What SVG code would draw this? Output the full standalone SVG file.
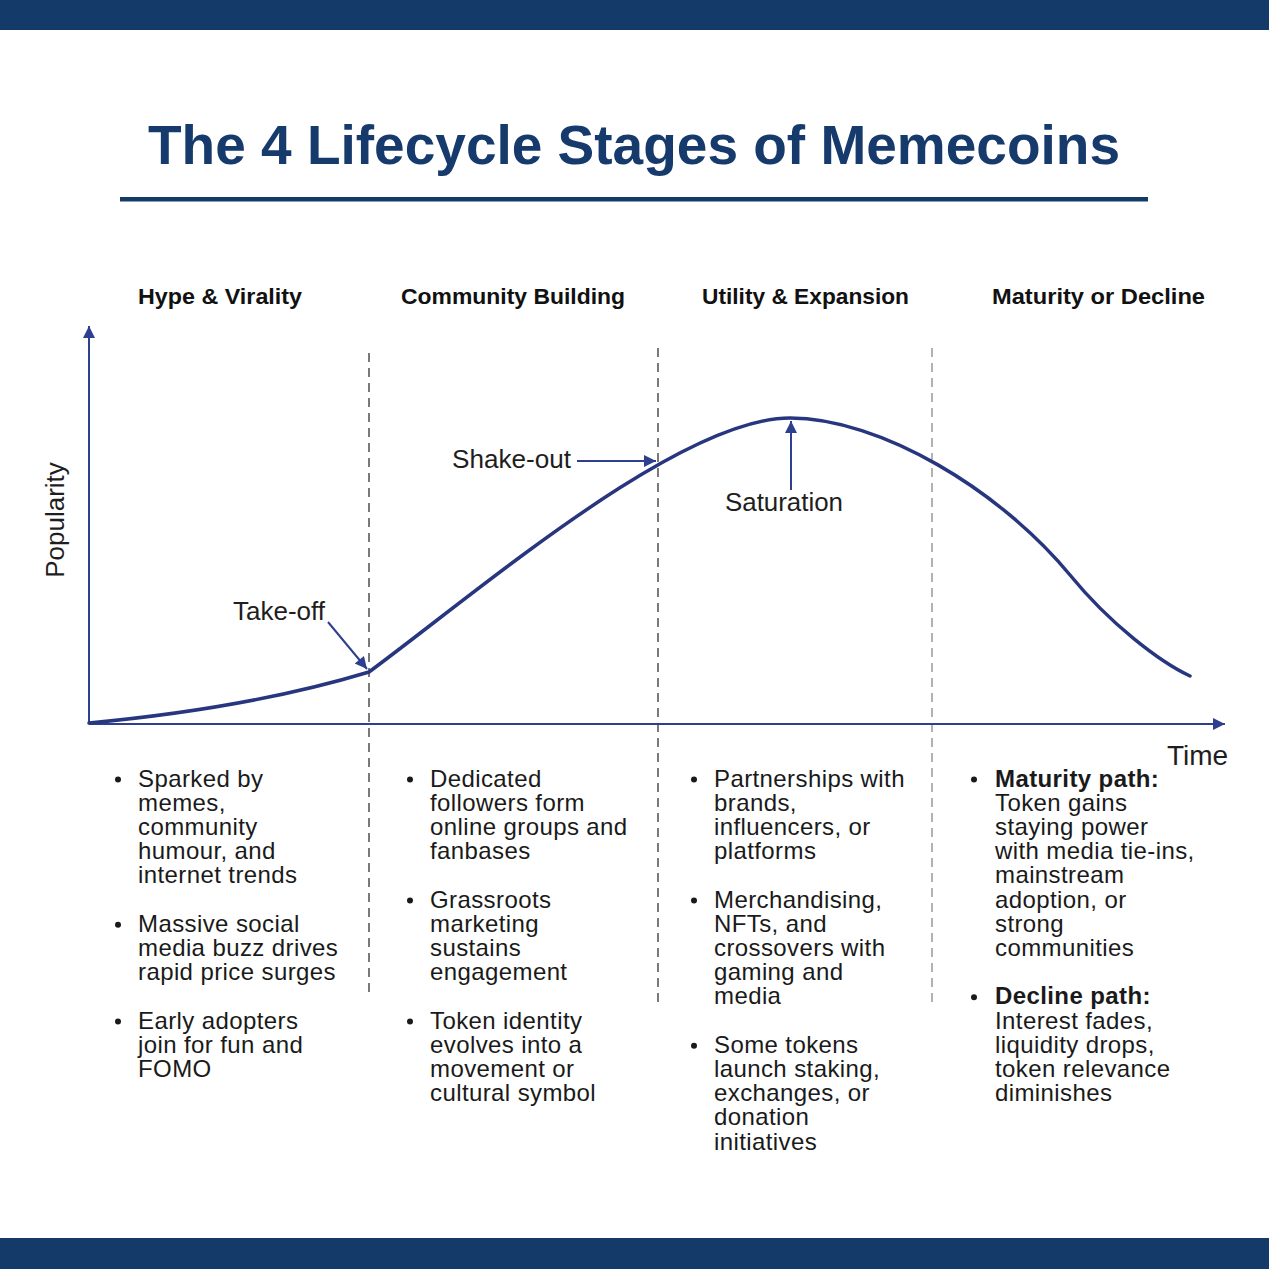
<svg xmlns="http://www.w3.org/2000/svg" width="1269" height="1269" viewBox="0 0 1269 1269">
<style>
.bar{fill:#133a68}
.title{font-family:"Liberation Sans",Arial,sans-serif;font-weight:bold;font-size:55px;fill:#163a6b}
.hdr{font-family:"Liberation Sans",Arial,sans-serif;font-weight:bold;font-size:22px;fill:#111}
.body{font-family:"Liberation Sans",Arial,sans-serif;font-size:24px;letter-spacing:0.4px;fill:#1a1a1a}
.lbl{font-family:"Liberation Sans",Arial,sans-serif;font-size:26px;fill:#1e1e1e}
.axis{stroke:#2d3f8e;stroke-width:2;fill:none}
.curve{stroke:#27367f;stroke-width:3.5;fill:none;stroke-linejoin:round;stroke-linecap:round}
.dash{stroke:#333;stroke-width:1.3;stroke-dasharray:9 6;fill:none}
.dash2{stroke:#8a8a8a;stroke-width:1.3;stroke-dasharray:9 6;fill:none}
.ptr{stroke:#2d3f8e;stroke-width:2;fill:none}
.dot{fill:#1a1a1a}
</style>
<defs>
<marker id="ah" viewBox="0 0 10 10" refX="10" refY="5" markerWidth="16" markerHeight="12" markerUnits="userSpaceOnUse" orient="auto">
<path d="M0,0 L10,5 L0,10 Z" fill="#2d3f8e"/>
</marker>
</defs>
<rect width="1269" height="1269" fill="#fff"/>
<rect class="bar" x="0" y="0" width="1269" height="30"/>
<rect class="bar" x="0" y="1238" width="1269" height="31"/>
<g id="title">
<text class="title" x="634" y="164" text-anchor="middle" textLength="972" lengthAdjust="spacingAndGlyphs">The 4 Lifecycle Stages of Memecoins</text>
<rect class="bar" x="120" y="197" width="1028" height="4.5"/>
</g>
<g id="dividers">
<line class="dash" x1="369" y1="353" x2="369" y2="992"/>
<line class="dash" x1="658" y1="348" x2="658" y2="1002"/>
<line class="dash2" x1="932" y1="348" x2="932" y2="1002"/>
</g>
<g id="axes">
<line class="axis" x1="89" y1="724" x2="89" y2="326" marker-end="url(#ah)"/>
<line class="axis" x1="89" y1="724" x2="1225" y2="724" marker-end="url(#ah)"/>
<text class="lbl" transform="translate(64,520) rotate(-90)" text-anchor="middle">Popularity</text>
<text class="lbl" x="1167" y="765" style="font-size:28px">Time</text>
</g>
<g id="curve">
<path class="curve" d="M89,723 Q250,708 369,672 C480,590 680,418 790,418 C880,418 1000,490 1070,575 C1110,624 1160,662 1190,676"/>
</g>
<g id="connectors">
<line class="ptr" x1="328" y1="622" x2="367" y2="669" marker-end="url(#ah)"/>
<line class="ptr" x1="577" y1="461" x2="656" y2="461" marker-end="url(#ah)"/>
<line class="ptr" x1="791" y1="490" x2="791" y2="421" marker-end="url(#ah)"/>
</g>
<g id="annotations">
<text class="lbl" x="233" y="620" textLength="92" lengthAdjust="spacingAndGlyphs">Take-off</text>
<text class="lbl" x="452" y="468" textLength="119" lengthAdjust="spacingAndGlyphs">Shake-out</text>
<text class="lbl" x="725" y="511" textLength="118" lengthAdjust="spacingAndGlyphs">Saturation</text>
</g>
<g id="stage1">
<text class="hdr" x="220" y="303.5" text-anchor="middle" textLength="164" lengthAdjust="spacingAndGlyphs">Hype &amp; Virality</text>
<circle class="dot" cx="118" cy="779.5" r="3"/>
<circle class="dot" cx="118" cy="924.7" r="3"/>
<circle class="dot" cx="118" cy="1021.5" r="3"/>
<text class="body">
<tspan x="138" y="786.5">Sparked by</tspan>
<tspan x="138" y="810.7">memes,</tspan>
<tspan x="138" y="834.9">community</tspan>
<tspan x="138" y="859.1">humour, and</tspan>
<tspan x="138" y="883.3">internet trends</tspan>
<tspan x="138" y="931.7">Massive social</tspan>
<tspan x="138" y="955.9">media buzz drives</tspan>
<tspan x="138" y="980.1">rapid price surges</tspan>
<tspan x="138" y="1028.5">Early adopters</tspan>
<tspan x="138" y="1052.7">join for fun and</tspan>
<tspan x="138" y="1076.9">FOMO</tspan>
</text>
</g>
<g id="stage2">
<text class="hdr" x="513" y="303.5" text-anchor="middle" textLength="224" lengthAdjust="spacingAndGlyphs">Community Building</text>
<circle class="dot" cx="410" cy="779.5" r="3"/>
<circle class="dot" cx="410" cy="900.5" r="3"/>
<circle class="dot" cx="410" cy="1021.5" r="3"/>
<text class="body">
<tspan x="430" y="786.5">Dedicated</tspan>
<tspan x="430" y="810.7">followers form</tspan>
<tspan x="430" y="834.9">online groups and</tspan>
<tspan x="430" y="859.1">fanbases</tspan>
<tspan x="430" y="907.5">Grassroots</tspan>
<tspan x="430" y="931.7">marketing</tspan>
<tspan x="430" y="955.9">sustains</tspan>
<tspan x="430" y="980.1">engagement</tspan>
<tspan x="430" y="1028.5">Token identity</tspan>
<tspan x="430" y="1052.7">evolves into a</tspan>
<tspan x="430" y="1076.9">movement or</tspan>
<tspan x="430" y="1101.1">cultural symbol</tspan>
</text>
</g>
<g id="stage3">
<text class="hdr" x="805.5" y="303.5" text-anchor="middle" textLength="207" lengthAdjust="spacingAndGlyphs">Utility &amp; Expansion</text>
<circle class="dot" cx="694" cy="779.5" r="3"/>
<circle class="dot" cx="694" cy="900.5" r="3"/>
<circle class="dot" cx="694" cy="1045.7" r="3"/>
<text class="body">
<tspan x="714" y="786.5">Partnerships with</tspan>
<tspan x="714" y="810.7">brands,</tspan>
<tspan x="714" y="834.9">influencers, or</tspan>
<tspan x="714" y="859.1">platforms</tspan>
<tspan x="714" y="907.5">Merchandising,</tspan>
<tspan x="714" y="931.7">NFTs, and</tspan>
<tspan x="714" y="955.9">crossovers with</tspan>
<tspan x="714" y="980.1">gaming and</tspan>
<tspan x="714" y="1004.3">media</tspan>
<tspan x="714" y="1052.7">Some tokens</tspan>
<tspan x="714" y="1076.9">launch staking,</tspan>
<tspan x="714" y="1101.1">exchanges, or</tspan>
<tspan x="714" y="1125.3">donation</tspan>
<tspan x="714" y="1149.5">initiatives</tspan>
</text>
</g>
<g id="stage4">
<text class="hdr" x="1098.5" y="303.5" text-anchor="middle" textLength="213" lengthAdjust="spacingAndGlyphs">Maturity or Decline</text>
<circle class="dot" cx="974" cy="779.5" r="3"/>
<circle class="dot" cx="974" cy="997.3" r="3"/>
<text class="body">
<tspan x="995" y="786.5" font-weight="bold">Maturity path:</tspan>
<tspan x="995" y="810.7">Token gains</tspan>
<tspan x="995" y="834.9">staying power</tspan>
<tspan x="995" y="859.1">with media tie-ins,</tspan>
<tspan x="995" y="883.3">mainstream</tspan>
<tspan x="995" y="907.5">adoption, or</tspan>
<tspan x="995" y="931.7">strong</tspan>
<tspan x="995" y="955.9">communities</tspan>
<tspan x="995" y="1004.3" font-weight="bold">Decline path:</tspan>
<tspan x="995" y="1028.5">Interest fades,</tspan>
<tspan x="995" y="1052.7">liquidity drops,</tspan>
<tspan x="995" y="1076.9">token relevance</tspan>
<tspan x="995" y="1101.1">diminishes</tspan>
</text>
</g>
</svg>
